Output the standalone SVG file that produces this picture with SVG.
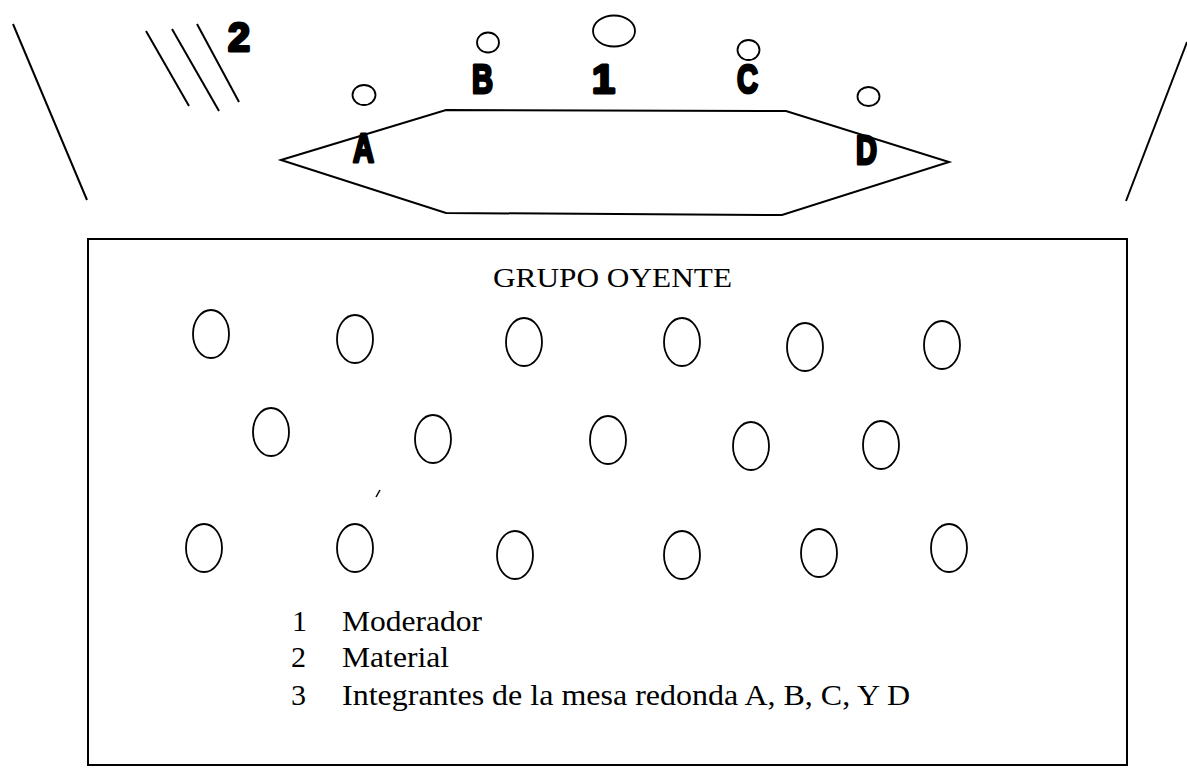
<svg xmlns="http://www.w3.org/2000/svg" width="1187" height="777" viewBox="0 0 1187 777">
<style>
.ln{stroke:#000;stroke-width:2;fill:none}
.seat{stroke:#000;stroke-width:1.8;fill:none}
.big{font-family:"Liberation Sans",Arial,sans-serif;font-weight:bold;font-size:40px;fill:#000;stroke:#000;stroke-width:3;stroke-linejoin:round}
.ser{font-family:"Liberation Serif","Times New Roman",serif;fill:#000}
</style>
<rect width="1187" height="777" fill="#fff"/>
<g id="walls">
<line class="ln" x1="13" y1="24" x2="87" y2="200"/>
<line class="ln" x1="1187" y1="42" x2="1126" y2="201"/>
</g>
<g id="material">
<line class="ln" x1="146" y1="31" x2="189" y2="106"/>
<line class="ln" x1="172" y1="29" x2="219" y2="111"/>
<line class="ln" x1="197" y1="24" x2="239" y2="102"/>
<text class="big" x="228" y="51" textLength="22" lengthAdjust="spacingAndGlyphs">2</text>
</g>
<g id="mesa">
<polygon class="ln" points="281,160 446,110 786,111 949,162 782,215 446,213"/>
</g>
<g id="A">
<ellipse class="seat" cx="364" cy="95" rx="11.5" ry="10"/>
<text class="big" x="353" y="162" textLength="21" lengthAdjust="spacingAndGlyphs">A</text>
</g>
<g id="B">
<ellipse class="seat" cx="488" cy="42.5" rx="11" ry="10"/>
<text class="big" x="472" y="93" textLength="21" lengthAdjust="spacingAndGlyphs">B</text>
</g>
<g id="moderador">
<ellipse class="seat" cx="614" cy="31" rx="21" ry="15.5"/>
<text class="big" x="592" y="93" textLength="23" lengthAdjust="spacingAndGlyphs">1</text>
</g>
<g id="C">
<ellipse class="seat" cx="748.5" cy="50" rx="11" ry="10"/>
<text class="big" x="737" y="93" textLength="21" lengthAdjust="spacingAndGlyphs">C</text>
</g>
<g id="D">
<ellipse class="seat" cx="868.5" cy="96.5" rx="11" ry="9.5"/>
<text class="big" x="856" y="164" textLength="21" lengthAdjust="spacingAndGlyphs">D</text>
</g>
<g id="grupo-oyente">
<rect class="ln" x="88" y="239" width="1039" height="526"/>
<text class="ser" x="493" y="287" font-size="28" textLength="239" lengthAdjust="spacingAndGlyphs">GRUPO OYENTE</text>
<ellipse class="seat" cx="211" cy="334" rx="18" ry="24"/>
<ellipse class="seat" cx="355" cy="339" rx="18" ry="24"/>
<ellipse class="seat" cx="524" cy="342" rx="18" ry="24"/>
<ellipse class="seat" cx="682" cy="342" rx="18" ry="24"/>
<ellipse class="seat" cx="805" cy="347" rx="18" ry="24"/>
<ellipse class="seat" cx="942" cy="345" rx="18" ry="24"/>
<ellipse class="seat" cx="271" cy="432" rx="18" ry="24"/>
<ellipse class="seat" cx="433" cy="439" rx="18" ry="24"/>
<ellipse class="seat" cx="608" cy="440" rx="18" ry="24"/>
<ellipse class="seat" cx="751" cy="446" rx="18" ry="24"/>
<ellipse class="seat" cx="881" cy="445" rx="18" ry="24"/>
<line x1="376" y1="497" x2="380" y2="490" stroke="#000" stroke-width="1.5"/>
<ellipse class="seat" cx="204" cy="548" rx="18" ry="24"/>
<ellipse class="seat" cx="355" cy="548" rx="18" ry="24"/>
<ellipse class="seat" cx="515" cy="555" rx="18" ry="24"/>
<ellipse class="seat" cx="682" cy="555" rx="18" ry="24"/>
<ellipse class="seat" cx="819" cy="553" rx="18" ry="24"/>
<ellipse class="seat" cx="949" cy="548" rx="18" ry="24"/>
</g>
<g id="leyenda" class="ser" font-size="30">
<text x="292" y="631">1</text>
<text x="342" y="631" textLength="140" lengthAdjust="spacingAndGlyphs">Moderador</text>
<text x="291" y="667">2</text>
<text x="342" y="667" textLength="107" lengthAdjust="spacingAndGlyphs">Material</text>
<text x="291" y="705">3</text>
<text x="342" y="705" textLength="568" lengthAdjust="spacingAndGlyphs">Integrantes de la mesa redonda A, B, C, Y D</text>
</g>
</svg>
